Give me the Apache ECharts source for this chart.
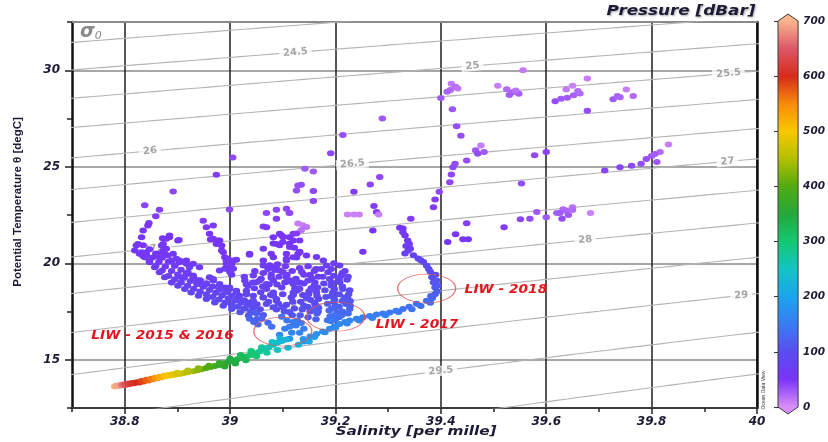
<!DOCTYPE html>
<html>
<head>
<meta charset="utf-8">
<script src="https://cdn.jsdelivr.net/npm/echarts@6/dist/echarts.min.js"></script>
<style>
  html, body { margin: 0; padding: 0; background: #fff; }
  #chart { width: 828px; height: 442px; }
</style>
</head>
<body>
<div id="chart"></div>
<script>
// ---- axis ticks ----
const salinityTicks = [38.8, 39, 39.2, 39.4, 39.6, 39.8, 40];
const salinityMinorTicks = [38.7, 38.9, 39.1, 39.3, 39.5, 39.7, 39.9];
const thetaTicks = [15, 20, 25, 30];
const thetaMinorTicks = [12.5, 17.5, 22.5, 27.5, 32.5];
const pressureTicks = [0, 100, 200, 300, 400, 500, 600, 700];

// ---- isopycnals (sigma-0) ----
const sigmaLevels = [23.5, 24, 24.5, 25, 25.5, 26, 26.5, 27, 27.5, 28, 28.5, 29, 29.5, 30, 30.5];
const sigmaLabelLevels = [24.5, 25, 25.5, 26, 26.5, 27, 27.5, 28, 28.5, 29, 29.5];
const sigmaLabelSalinity = [39.124, 39.46, 39.946, 38.848, 39.232, 39.944, 38.858, 39.674, 39.125, 39.97, 39.40];

// ---- pressure colour scale, 0..700 dbar in 50 dbar steps ----
const pressureColors = ['#d890f8', '#7a34f8', '#5a4cf0', '#3a7cf2', '#1ca4ee', '#12c4c4', '#14c872',
  '#24a83a', '#52aa10', '#b4c000', '#f8c800', '#f88a0a', '#d82a1a', '#dc5868', '#f8b48c'];

// ---- casts: [salinity, potential temperature, pressure] ----
const surfaceLayer = [
  [39.556,30.0,12],[39.420,29.30,12],[39.428,29.15,18],[39.418,28.98,22],[39.432,29.05,15],[39.412,28.88,25],[39.400,28.56,30],
  [39.508,29.20,8],[39.525,29.02,20],[39.536,28.86,24],[39.548,28.78,26],[39.542,28.95,16],[39.530,28.72,28],
  [39.422,27.98,32],[39.430,27.10,36],[39.438,26.60,36],[39.476,26.10,10],[39.466,25.85,30],[39.470,25.68,36],[39.482,25.76,30],
  [39.578,25.60,38],[39.600,25.76,42],[39.289,27.50,30],[39.214,26.64,36],[39.191,25.70,40],
  [39.617,28.40,36],[39.628,28.52,30],[39.640,28.58,30],[39.652,28.70,26],[39.664,28.80,20],[39.638,29.00,12],[39.650,29.20,8],
  [39.678,29.57,10],[39.660,28.92,20],[39.752,29.00,10],[39.727,28.50,30],[39.740,28.60,26],[39.765,28.66,20],[39.735,28.66,24],
  [39.678,27.90,36],[39.832,26.15,10],[39.790,25.40,36],[39.800,25.56,30],[39.816,25.76,20],[39.806,25.66,28],
  [39.711,24.80,42],[39.740,24.98,42],[39.762,25.05,40],[39.780,25.15,36],[39.810,25.24,30],[39.005,25.48,40],[38.974,24.59,45],
  [39.449,25.33,35],[39.427,25.16,36],[39.423,24.98,38]
];

const upperThermocline = [
  [39.142,24.90,30],[39.158,24.76,30],[39.284,24.47,40],[39.266,24.08,40],[39.135,24.07,36],[39.126,23.77,36],[39.158,23.74,40],
  [39.235,23.70,45],[39.158,23.23,40],[39.273,22.97,45],[39.278,22.65,45],
  [39.223,22.53,8],[39.235,22.53,8],[39.245,22.53,8],[39.282,22.53,10],[39.112,22.60,10],
  [39.343,22.30,46],[39.271,21.70,50],[39.328,21.80,50],[39.252,20.60,56],
  [39.449,22.07,46],[39.428,21.50,50],[39.413,21.10,55],[39.442,21.25,50],[39.452,21.25,50],[39.520,21.87,46],[39.553,24.13,36],
  [39.551,22.28,40],[39.569,22.30,36],[39.582,22.66,30],[39.600,22.38,30],[39.620,22.60,26],[39.632,22.80,20],[39.650,22.90,16],
  [39.626,22.60,30],[39.638,22.72,24],[39.650,22.76,20],[39.684,22.60,8],[39.630,22.30,36],[39.642,22.50,30],
  [39.397,23.70,40],[39.389,23.30,45],[39.386,22.90,45],[39.417,24.20,40],[39.420,24.60,40],
  [39.069,22.60,40],[39.088,22.77,40],[39.063,21.90,45],[39.107,22.82,40],[39.113,22.60,40],[39.129,24.03,36]
];

const liw2018Branch = [
  [39.322,21.84,55],[39.332,21.44,60],[39.337,21.18,65],[39.334,20.90,70],[39.338,20.66,72],[39.332,20.50,75],
  [39.348,20.42,80],[39.357,20.25,85],[39.367,20.07,90],[39.373,19.87,95],[39.380,19.56,100],[39.383,19.27,105],
  [39.386,19.00,110],[39.389,18.75,115],[39.389,18.40,120],[39.384,18.20,125],
  [39.328,21.60,58],[39.340,21.00,66],[39.342,20.75,70],[39.362,20.15,88],[39.377,19.70,98],[39.390,19.40,103],
  [39.392,19.10,108],[39.394,18.85,112],[39.393,18.55,118],[39.381,18.30,124],
  [39.373,18.06,130],[39.354,17.90,135],[39.340,17.75,138],[39.328,17.63,140],[39.315,17.54,143],[39.303,17.45,146],
  [39.290,17.39,148],[39.278,17.34,150],[39.265,17.27,153],[39.252,17.20,156],[39.240,17.12,158],[39.227,17.03,160],
  [39.218,16.95,163],[39.208,16.85,166],[39.198,16.72,168],[39.189,16.60,170],[39.176,16.46,173],[39.164,16.33,176],
  [39.152,16.20,180],[39.139,16.07,185],
  [39.380,17.95,132],[39.362,17.78,138],[39.345,17.62,142],[39.320,17.48,146],[39.295,17.30,150],[39.270,17.16,155],
  [39.245,17.03,160],[39.222,16.88,164],[39.200,16.66,169],[39.180,16.42,175],[39.160,16.18,182],[39.140,15.95,190]
];

const liw2017Column = [
  [39.129,22.06,10],[39.138,21.97,10],[39.145,21.88,14],[39.135,21.71,16],
  [39.126,21.54,45],[39.101,21.36,50],[39.082,21.02,55],[39.094,20.93,55],[39.113,21.02,55],[39.122,20.80,60],[39.107,20.49,60],
  [39.132,20.60,60],[39.126,20.30,62],[39.145,20.40,62],[39.164,20.32,64],[39.177,20.14,66],
  [39.183,19.88,70],[39.186,19.53,76],[39.189,19.18,82],[39.192,18.84,90],[39.195,18.49,98],[39.198,18.14,108],[39.200,17.80,118],[39.203,17.46,130],
  [39.208,19.88,72],[39.211,19.36,80],[39.208,19.01,88],[39.214,18.67,96],[39.217,18.23,106],[39.220,17.89,116],[39.227,17.63,124],
  [39.173,19.70,74],[39.176,19.30,80],[39.178,18.95,88],[39.180,18.60,95],[39.182,18.25,104],[39.185,17.90,114],[39.188,17.55,126],[39.190,17.25,136],
  [39.218,19.60,76],[39.222,19.15,84],[39.225,18.40,102],[39.228,18.05,112],[39.212,17.30,138],[39.200,17.10,145],[39.185,17.05,142],
  [39.192,17.00,146],[39.198,17.30,138],[39.193,17.65,124],[39.197,18.00,112],[39.192,18.30,104],[39.198,18.65,94],[39.193,19.00,86],
  [39.197,19.35,80],[39.192,19.70,74],[39.197,20.00,68],
  [39.207,17.20,140],[39.213,17.50,130],[39.207,17.75,122],[39.213,18.05,112],[39.207,18.40,102],[39.213,18.80,92],[39.207,19.20,84],[39.213,19.50,78],
  [39.224,17.40,132],[39.228,17.80,120],[39.223,18.20,108],[39.227,18.60,98],[39.224,19.30,82],
  [39.075,19.90,64],[39.090,19.95,64],[39.105,19.85,66],[39.085,19.65,68],[39.100,19.55,70],[39.078,19.40,72],[39.118,19.60,70],
  [39.132,19.75,68],[39.148,19.85,66],[39.160,19.60,70],[39.140,19.40,72],[39.155,19.20,76],[39.125,19.20,76],[39.110,19.05,78],
  [39.140,18.95,80],[39.160,18.85,82],[39.130,18.70,84],[39.150,18.55,86],[39.165,18.30,92],[39.145,18.20,94],[39.120,18.35,90],
  [39.160,17.95,100],[39.140,17.80,104],[39.155,17.60,110],[39.168,17.70,110],[39.165,17.40,118]
];

const thermoclineFan = [
  [38.838,23.00,42],[38.866,22.77,44],[38.859,22.43,46],[38.846,22.08,48],[38.844,21.96,50],[38.835,21.70,52],[38.832,21.35,55],
  [38.825,21.00,56],[38.822,20.92,56],[38.819,20.66,58],[38.832,20.57,58],[38.841,20.40,60],[38.892,23.72,40],
  [38.885,21.44,55],[38.901,21.18,56],[38.879,21.27,56],[38.870,20.92,57],[38.873,20.66,58],[38.863,20.49,60],[38.882,20.40,60],
  [38.889,20.14,62],[38.895,19.88,64],[38.904,20.05,63],[38.917,19.97,64],[38.923,19.79,66],[38.920,19.53,68],[38.930,19.36,70],
  [38.942,19.79,66],[38.936,19.10,74],[38.942,18.93,77],[38.908,19.27,72],
  [38.872,21.30,55],[38.885,21.35,55],[38.903,21.20,56],[38.873,21.00,57],[38.879,20.75,58],[38.876,20.49,60],[38.866,20.31,61],
  [38.892,20.49,60],[38.898,20.23,62],
  [38.949,22.20,44],[38.955,21.87,48],[38.961,21.53,50],[38.968,21.27,52],[38.974,21.00,54],[38.984,20.66,56],[38.990,20.31,60],
  [38.993,20.14,62],[38.996,19.88,64],[38.999,19.62,67],[39.003,19.40,70],[38.999,22.79,40],[38.968,21.96,48],[38.963,21.23,52],
  [38.980,21.18,52],[38.977,21.18,53],[38.984,20.92,55],[38.987,20.57,57],[38.996,20.23,61],[39.003,19.97,63],[39.006,19.71,66],
  [39.000,19.53,68],[38.990,19.71,66],
  [38.904,20.14,62],[38.917,20.14,62],[38.930,19.97,64],[38.917,19.45,69],[38.930,19.27,71],[38.942,19.10,74],[38.955,18.93,77],
  [38.980,19.62,67],[38.993,19.97,63],[39.006,20.14,62],[39.012,20.18,62],
  [38.961,19.27,72],[38.968,19.10,74],[38.980,18.93,77],[38.990,18.75,80],[38.999,18.67,81],[39.012,18.58,83],
  [39.037,20.49,60],[39.063,20.75,58],[39.088,21.00,56],[39.098,21.44,54],[39.082,21.35,55],[39.100,21.10,56],[39.094,21.53,52],
  [39.120,21.53,52],[39.113,20.84,58],[39.129,20.49,60],[39.107,20.23,62],[39.082,19.79,66],[39.063,19.88,65],[39.078,20.49,60],
  [39.069,21.87,48],[39.088,22.30,45],[39.113,21.35,54],[39.120,21.18,55],[39.132,21.18,55],[39.063,20.14,62],[39.082,20.31,61],
  [39.107,20.14,62],[39.120,20.31,61],[39.132,20.57,60],[39.037,20.44,60]
];

// dense body of the thermocline band, lower / middle / upper rows
const fanBand = [
  [38.835,20.36,58],[38.847,20.12,61],[38.859,19.87,64],[38.871,19.62,68],[38.883,19.34,72],[38.895,19.17,74],[38.907,19.00,76],
  [38.919,18.84,79],[38.931,18.68,81],[38.943,18.54,84],[38.955,18.40,86],[38.967,18.25,88],[38.979,18.12,90],[38.991,17.97,93],
  [39.003,17.84,96],[39.015,17.74,98],[39.027,17.64,101],[39.039,17.52,104],[39.051,17.42,107],[39.063,17.32,110],
  [38.841,20.55,56],[38.853,20.30,59],[38.865,20.06,62],[38.877,19.83,65],[38.889,19.60,68],[38.901,19.42,70],[38.913,19.25,73],
  [38.925,19.08,75],[38.937,18.92,77],[38.949,18.78,79],[38.961,18.62,81],[38.973,18.47,84],[38.985,18.33,86],[38.997,18.18,88],
  [39.009,18.06,90],[39.021,17.95,93],[39.033,17.83,96],[39.045,17.72,98],[39.057,17.62,101],
  [38.835,20.93,54],[38.847,20.73,56],[38.859,20.50,58],[38.871,20.28,60],[38.883,20.08,62],[38.895,19.87,64],[38.907,19.66,66],
  [38.919,19.45,69],[38.931,19.26,71],[38.943,19.12,73],[38.955,18.96,76],[38.967,18.80,78],[38.979,18.63,80],[38.991,18.48,83],
  [39.003,18.33,85],[39.015,18.20,87],[39.027,18.08,89],[39.039,17.98,91],[39.051,17.88,94],
  [38.828,20.49,58],[38.838,20.31,60],[38.847,20.05,62],[38.857,19.79,65],[38.866,19.53,68],[38.876,19.27,72],[38.889,19.00,76],
  [38.901,18.84,79],[38.914,18.67,81],[38.926,18.49,84],[38.940,18.32,87],[38.955,18.15,89],[38.971,17.97,93],[38.987,17.80,96],
  [39.003,17.63,100],[39.019,17.46,105],[39.035,17.29,110],[39.051,17.11,116]
];

// saline mass between the thermocline band and the 2017 core
const fanMass = [
  [39.031,18.90,77],[39.027,19.30,71],[39.046,18.70,80],[39.043,19.00,76],[39.047,19.60,67],
  [39.058,18.50,84],[39.062,18.80,79],[39.059,19.20,73],[39.063,19.50,68],
  [39.073,18.00,93],[39.077,18.35,87],[39.074,18.90,77],[39.078,19.25,72],[39.072,19.70,65],
  [39.088,17.60,102],[39.092,17.90,95],[39.089,18.90,77],[39.093,19.30,71],[39.087,19.80,64],
  [39.103,17.50,105],[39.107,17.85,96],[39.104,19.00,76],[39.108,19.40,70],
  [39.118,17.30,112],[39.122,17.65,101],[39.119,18.00,93],[39.123,18.70,81],[39.117,19.10,74],
  [39.133,17.30,112],[39.137,17.60,103],[39.134,18.00,93],[39.138,18.35,87],[39.132,19.00,76],[39.136,19.55,67],
  [39.148,17.20,116],[39.152,17.50,105],[39.147,17.75,99],[39.153,18.10,91],[39.149,18.40,86],[39.154,18.70,81],[39.148,19.10,74],[39.152,19.40,70],
  [39.163,17.10,120],[39.167,17.50,105],[39.162,17.85,96],[39.168,18.15,90],[39.164,18.50,84],[39.166,18.75,80],[39.161,19.00,76],[39.167,19.30,71],[39.163,19.70,65],
  [39.028,19.10,74],[39.050,19.01,76],[39.069,18.67,81],[39.082,19.10,74],[39.094,19.62,67],[39.107,19.27,72],[39.120,18.93,77],
  [39.098,18.75,80],[39.082,18.49,84],[39.063,18.23,89],[39.044,18.06,92],[39.069,17.89,95],[39.088,18.06,92],[39.082,17.72,99],
  [39.116,18.23,89],[39.126,18.58,83],[39.031,18.58,83],[39.018,18.32,87],
  [39.044,19.36,70],[39.056,19.10,74],[39.069,18.93,77],[39.034,18.84,79],
  [39.088,18.15,90],[39.100,17.72,99],[39.113,17.46,106],
  [38.968,19.19,73],[38.980,18.84,79],[38.999,18.75,80],[39.012,18.49,84],[39.031,18.40,86],[39.044,18.32,87],[39.063,18.23,89],
  [39.082,18.32,87],[39.100,18.40,86],[39.120,18.49,84],[39.132,18.67,81]
];

const liw1516Core = [
  [39.047,17.44,118],[39.060,17.13,124],[39.072,16.92,130],[39.079,16.71,136],[39.037,17.13,124],[39.053,16.82,130],[39.045,16.95,128],
  [39.098,17.23,140],[39.108,17.03,146],[39.113,16.71,152],[39.117,16.40,162],[39.113,16.09,176],[39.125,16.77,150],[39.132,16.40,160],
  [39.128,17.03,145],[39.104,16.60,156],[39.094,16.30,170],[39.120,16.95,148],[39.135,16.90,148],[39.140,16.60,152]
];

const deepTail = [
  [38.781,13.62,700],[38.790,13.65,680],[38.797,13.68,655],[38.803,13.71,630],[38.810,13.74,615],[38.818,13.78,605],[38.828,13.82,595],
  [38.836,13.87,580],[38.845,13.93,565],[38.854,13.99,550],[38.862,14.04,530],[38.870,14.09,515],[38.879,14.14,500],[38.887,14.18,490],
  [38.895,14.22,480],[38.904,14.26,470],[38.912,14.31,460],[38.920,14.35,450],[38.930,14.40,440],[38.938,14.45,430],[38.946,14.51,415],
  [38.955,14.57,400],[38.963,14.62,390],[38.971,14.67,380],[38.980,14.73,370],[38.989,14.80,360],[38.997,14.88,352],[39.006,14.95,345],
  [39.014,15.02,335],[39.022,15.10,325],[39.031,15.17,315],[39.039,15.25,305],[39.047,15.34,295],[39.056,15.43,282],[39.064,15.53,272],
  [39.073,15.65,262],[39.082,15.77,252],[39.090,15.88,242],[39.098,15.97,232],[39.107,16.05,222],
  [38.785,13.66,690],[38.794,13.70,668],[38.800,13.73,645],[38.807,13.77,622],[38.814,13.80,610],[38.823,13.84,600],[38.832,13.90,588],
  [38.841,13.96,572],[38.850,14.02,558],[38.858,14.07,540],[38.866,14.12,522],[38.875,14.17,508],[38.883,14.21,495],[38.891,14.25,485],
  [38.900,14.33,474],[38.920,14.44,452],[38.940,14.56,428],[38.960,14.69,400],[38.980,14.83,372],
  [38.990,14.65,362],[39.010,14.80,345],[39.030,14.98,325],[39.050,15.18,300],[39.070,15.36,275],[39.090,15.50,255],[39.110,15.62,235],
  [39.130,15.78,218],[39.150,15.95,205],
  [39.000,15.05,345],[39.020,15.25,322],[39.040,15.45,298],[39.060,15.65,272],[39.080,15.92,245],[39.095,16.10,225]
];

// ---- annotated LIW cores: [salinity, temperature] ----
const liwCores = [[39.373, 18.69], [39.2006, 17.23], [39.10, 16.46]];
const liwNames = ['LIW - 2018', 'LIW - 2017', 'LIW - 2015 & 2016'];

// UNESCO EOS-80 density anomaly at the surface
function sigma0(S, T) {
  const rw = 999.842594 + 6.793952e-2 * T - 9.095290e-3 * T * T + 1.001685e-4 * T ** 3
    - 1.120083e-6 * T ** 4 + 6.536332e-9 * T ** 5;
  const A = 8.24493e-1 - 4.0899e-3 * T + 7.6438e-5 * T * T - 8.2467e-7 * T ** 3 + 5.3875e-9 * T ** 4;
  const B = -5.72466e-3 + 1.0227e-4 * T - 1.6546e-6 * T * T;
  const C = 4.8314e-4;
  return rw + A * S + B * Math.pow(S, 1.5) + C * S * S - 1000;
}
function tempOnIsopycnal(sig, S) {
  let lo = -5, hi = 45;
  for (let i = 0; i < 60; i++) {
    const mid = (lo + hi) / 2;
    if (sigma0(S, mid) > sig) lo = mid; else hi = mid;
  }
  return (lo + hi) / 2;
}

const FONT = '"DejaVu Sans", Verdana, sans-serif';
const INK = '#1b1b36';

const series = [];
sigmaLevels.forEach(sig => {
  const pts = [];
  for (let S = 38.6; S <= 40.1001; S += 0.02) pts.push([S, tempOnIsopycnal(sig, S)]);
  series.push({
    type: 'line', data: pts, showSymbol: false, silent: true, z: 1, clip: true,
    lineStyle: { color: '#b4b4b4', width: 1.1 }
  });
});
series.push({
  type: 'scatter', silent: true, z: 2, symbolSize: 1,
  itemStyle: { color: 'rgba(0,0,0,0)' },
  data: sigmaLabelLevels.map((s, i) => [sigmaLabelSalinity[i], tempOnIsopycnal(s, sigmaLabelSalinity[i]), s]),
  label: {
    show: true, position: 'inside', formatter: p => String(p.value[2]),
    color: '#8e8e8e', fontSize: 10, fontWeight: 'bold', fontFamily: FONT,
    backgroundColor: '#fff', padding: [0, 4], rotate: 5
  }
});

const dataIdx = [];
[surfaceLayer, upperThermocline, thermoclineFan, fanBand, fanMass, liw2017Column, liw1516Core, liw2018Branch, deepTail].forEach(arr => {
  dataIdx.push(series.length);
  series.push({
    type: 'scatter', data: arr, z: 3, symbol: 'circle', symbolSize: [7.5, 6],
    itemStyle: { opacity: 1 }, silent: true
  });
});

const circleIdx = series.length;
series.push({
  type: 'scatter', z: 4, silent: true, symbol: 'circle', symbolSize: [58, 29],
  itemStyle: { color: 'rgba(0,0,0,0)', borderColor: '#e05454', borderWidth: 1 },
  data: liwCores
});

// colour bar
series.push({
  type: 'custom', xAxisIndex: 3, yAxisIndex: 3, silent: true, z: 5,
  data: [[0.5, 700]],
  renderItem(params, api) {
    const cs = params.coordSys;
    const x0 = cs.x, x1 = cs.x + cs.width, xm = (x0 + x1) / 2;
    const yTop = api.coord([0.5, 700])[1], yBot = api.coord([0.5, 0])[1];
    const n = pressureColors.length;
    const stops = pressureColors.map((c, i) => ({ offset: 1 - i / (n - 1), color: c })).reverse();
    return {
      type: 'group', children: [
        { type: 'rect', shape: { x: x0, y: yTop, width: x1 - x0, height: yBot - yTop },
          style: { fill: new echarts.graphic.LinearGradient(0, 0, 0, 1, stops) } },
        { type: 'polygon', shape: { points: [[x0, yTop], [xm, yTop - 7], [x1, yTop]] },
          style: { fill: pressureColors[n - 1] } },
        { type: 'polygon', shape: { points: [[x0, yBot], [xm, yBot + 7], [x1, yBot]] },
          style: { fill: pressureColors[0] } },
        { type: 'polygon', shape: { points: [[x0, yTop], [xm, yTop - 7], [x1, yTop], [x1, yBot], [xm, yBot + 7], [x0, yBot]] },
          style: { fill: 'none', stroke: '#3a3a3a', lineWidth: 1 } }
      ]
    };
  }
});

const tickLabel = { color: INK, fontSize: 12, fontWeight: 'bold', fontStyle: 'italic', fontFamily: FONT };

const option = {
  animation: false,
  backgroundColor: '#fff',
  grid: [
    { left: 72, top: 22, width: 685, height: 386, show: false },
    { left: 778, top: 21, width: 21, height: 386, show: false }
  ],
  xAxis: [
    { type: 'value', gridIndex: 0, min: 38.7, max: 40, position: 'bottom',
      axisLine: { show: true, lineStyle: { color: '#3c3c3c', width: 2 } },
      axisTick: { show: true, length: 6, customValues: salinityTicks, lineStyle: { color: '#222', width: 1.5 } },
      axisLabel: Object.assign({ customValues: salinityTicks, margin: 8, formatter: v => String(+v.toFixed(1)) }, tickLabel),
      splitLine: { show: true, lineStyle: { color: '#1e1e1e', width: 1.5 } } },
    { type: 'value', gridIndex: 0, min: 38.7, max: 40, position: 'bottom',
      axisLine: { show: false },
      axisTick: { show: true, length: 4, customValues: salinityMinorTicks, lineStyle: { color: '#222', width: 1.5 } },
      axisLabel: { show: false }, splitLine: { show: false } },
    { type: 'value', gridIndex: 0, min: 38.7, max: 40, position: 'top',
      axisLine: { show: true, lineStyle: { color: '#8a8a8a', width: 2 } },
      axisTick: { show: false }, axisLabel: { show: false }, splitLine: { show: false } },
    { type: 'value', gridIndex: 1, min: 0, max: 1, show: false }
  ],
  yAxis: [
    { type: 'value', gridIndex: 0, min: 12.5, max: 32.5, position: 'left',
      axisLine: { show: true, lineStyle: { color: '#111', width: 2.5 } },
      axisTick: { show: true, length: 7, customValues: thetaTicks, lineStyle: { color: '#222', width: 1.5 } },
      axisLabel: Object.assign({ customValues: thetaTicks, margin: 12 }, tickLabel),
      splitLine: { show: true, lineStyle: { color: '#8a8a8a', width: 1.5 } } },
    { type: 'value', gridIndex: 0, min: 12.5, max: 32.5, position: 'left',
      axisLine: { show: false },
      axisTick: { show: true, length: 5, customValues: thetaMinorTicks, lineStyle: { color: '#222', width: 1.5 } },
      axisLabel: { show: false }, splitLine: { show: false } },
    { type: 'value', gridIndex: 0, min: 12.5, max: 32.5, position: 'right',
      axisLine: { show: true, lineStyle: { color: '#111', width: 2.5 } },
      axisTick: { show: false }, axisLabel: { show: false }, splitLine: { show: false } },
    { type: 'value', gridIndex: 1, min: 0, max: 700, interval: 100, position: 'right',
      axisLine: { show: false },
      axisTick: { show: true, inside: true, length: 4, lineStyle: { color: '#333', width: 1 } },
      axisLabel: Object.assign({ margin: 5 }, tickLabel, { fontSize: 10.5 }),
      splitLine: { show: false } },
    { type: 'value', gridIndex: 1, min: 0, max: 700, interval: 100, position: 'left',
      axisLine: { show: false },
      axisTick: { show: true, inside: true, length: 4, lineStyle: { color: '#333', width: 1 } },
      axisLabel: { show: false }, splitLine: { show: false } }
  ],
  visualMap: [{
    type: 'continuous', show: false, min: 0, max: 700, dimension: 2,
    seriesIndex: dataIdx, inRange: { color: pressureColors }
  }],
  graphic: [
    { type: 'text', id: 'ptitle', x: 681, y: 11, scaleX: 1.2, silent: true,
      style: { text: 'Pressure [dBar]', fill: INK, align: 'center', verticalAlign: 'middle',
        font: 'italic bold 14px ' + FONT, textShadowColor: 'rgba(0,0,0,0.35)', textShadowBlur: 2, textShadowOffsetX: 1, textShadowOffsetY: 1 } },
    { type: 'text', id: 'xtitle', x: 416, y: 432, scaleX: 1.18, silent: true,
      style: { text: 'Salinity [per mille]', fill: INK, align: 'center', verticalAlign: 'middle',
        font: 'italic bold 13px ' + FONT } },
    { type: 'text', id: 'ytitle', x: 18, y: 202, rotation: Math.PI / 2, silent: true,
      style: { text: 'Potential Temperature θ [degC]', fill: INK, align: 'center', verticalAlign: 'middle',
        font: 'bold 11.5px "Liberation Sans Narrow", "Liberation Sans", sans-serif' } },
    { type: 'text', id: 'sigma', x: 80, y: 32, silent: true,
      style: { text: '{a|σ}{b|0}', verticalAlign: 'middle',
        rich: { a: { fill: '#8a8a8a', font: 'italic bold 19px ' + FONT },
                b: { fill: '#8a8a8a', font: 'italic 11px ' + FONT, padding: [8, 0, 0, 0] } } } },
    { type: 'text', id: 'odv', x: 764, y: 390, rotation: Math.PI / 2, silent: true,
      style: { text: 'Ocean Data View', fill: '#333', align: 'center', verticalAlign: 'middle',
        font: '5px "Liberation Sans Narrow", "Liberation Sans", sans-serif' } }
  ],
  series
};

const chart = echarts.init(document.getElementById('chart'));
chart.setOption(option);

// LIW captions, anchored to the circled cores
const captionPlacement = [
  { dx: 38, dy: 1, align: 'left' },
  { dx: 40, dy: 8, align: 'left' },
  { dx: -49, dy: 4, align: 'right' }
];
chart.setOption({
  graphic: liwCores.map((c, i) => {
    const p = chart.convertToPixel({ seriesIndex: circleIdx }, c);
    const cp = captionPlacement[i];
    return {
      type: 'text', id: 'liw' + i, x: p[0] + cp.dx, y: p[1] + cp.dy, scaleX: 1.1, silent: true, z: 10,
      style: { text: liwNames[i], fill: '#e3151e', align: cp.align, verticalAlign: 'middle',
        font: 'italic bold 12.5px ' + FONT }
    };
  })
});
</script>
</body>
</html>
